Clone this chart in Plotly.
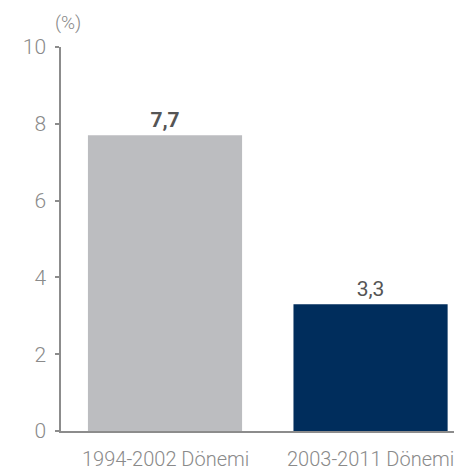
import plotly.graph_objects as go

# Average values for the two periods
periods = ["1994-2002 Dönemi", "2003-2011 Dönemi"]
values = [7.7, 3.3]
value_labels = ["<b>7,7</b>", "3,3"]
bar_colors = ["#BCBDC0", "#002D5C"]
y_ticks = [0, 2, 4, 6, 8, 10]

axis_grey = "#8C8C8C"
label_grey = "#8A8A8A"
positions = list(range(len(periods)))

fig = go.Figure(
    go.Bar(
        x=positions,
        y=values,
        text=value_labels,
        textposition="outside",
        textfont=dict(family="Roboto, Arial, sans-serif", size=21, color="#555555"),
        marker=dict(color=bar_colors, line=dict(width=0)),
        width=0.75,
        cliponaxis=False,
        hoverinfo="skip",
    )
)

fig.update_layout(
    width=454,
    height=473,
    margin=dict(l=61, r=0, t=47, b=42),
    paper_bgcolor="white",
    plot_bgcolor="white",
    showlegend=False,
    font=dict(family="Roboto, Arial, sans-serif", color=label_grey),
    xaxis=dict(
        range=[-0.506, 1.406],
        tickmode="array",
        tickvals=positions,
        showticklabels=False,
        ticks="",
        showline=True,
        linecolor=axis_grey,
        linewidth=1.5,
        showgrid=False,
        zeroline=False,
    ),
    yaxis=dict(
        range=[0, 10],
        tickmode="array",
        tickvals=y_ticks,
        ticktext=[str(v) for v in y_ticks],
        ticks="outside",
        ticklen=4,
        tickwidth=1.5,
        tickcolor=axis_grey,
        showline=True,
        linecolor=axis_grey,
        linewidth=1.5,
        showgrid=False,
        zeroline=False,
        tickfont=dict(size=21, color=label_grey, weight=300),
        ticklabelstandoff=5,
    ),
)

# Period labels under each bar
for pos, name in zip(positions, periods):
    fig.add_annotation(
        text=name,
        xref="x", yref="paper",
        x=pos, y=0,
        xanchor="center", yanchor="top",
        yshift=-15,
        borderpad=0,
        showarrow=False,
        font=dict(size=20, color=label_grey, weight=300),
    )

# Unit caption above the value axis
fig.add_annotation(
    text="(%)",
    xref="paper", yref="paper",
    x=-0.02, y=1.0,
    xanchor="left", yanchor="bottom",
    yshift=11,
    showarrow=False,
    font=dict(size=19, color=label_grey, weight=300),
)

# Extend the baseline slightly left past the value axis, like a zero tick
fig.add_shape(
    type="line",
    xref="paper", yref="y",
    x0=-0.011, x1=0, y0=0, y1=0,
    line=dict(color=axis_grey, width=1.5),
)

fig.write_html("out.html")
